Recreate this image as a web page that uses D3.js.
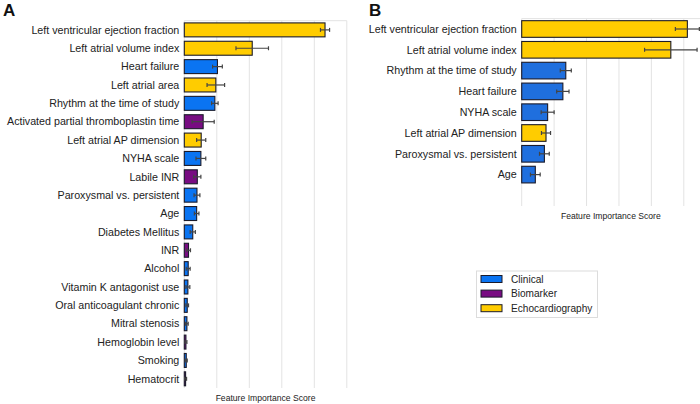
<!DOCTYPE html>
<html><head><meta charset="utf-8">
<script src="https://cdn.jsdelivr.net/npm/d3@7"></script>
<style>body{margin:0;background:#fff}svg{display:block}text{font-family:"Liberation Sans",Arial,sans-serif}</style>
</head><body><svg id="c" width="700" height="404"></svg>
<script>
// Panel A data
const featuresA = ["Left ventricular ejection fraction","Left atrial volume index","Heart failure","Left atrial area","Rhythm at the time of study","Activated partial thromboplastin time","Left atrial AP dimension","NYHA scale","Labile INR","Paroxysmal vs. persistent","Age","Diabetes Mellitus","INR","Alcohol","Vitamin K antagonist use","Oral anticoagulant chronic","Mitral stenosis","Hemoglobin level","Smoking","Hematocrit"];
const groupsA = ["Echocardiography","Echocardiography","Clinical","Echocardiography","Clinical","Biomarker","Echocardiography","Clinical","Biomarker","Clinical","Clinical","Clinical","Biomarker","Clinical","Clinical","Clinical","Clinical","Biomarker","Clinical","Biomarker"];
const valuesA = [4.33,2.09,1.02,0.97,0.94,0.58,0.52,0.51,0.40,0.39,0.38,0.26,0.13,0.12,0.11,0.09,0.08,0.05,0.06,0.04];
const errorsA = [0.14,0.50,0.15,0.27,0.10,0.34,0.14,0.15,0.11,0.09,0.07,0.08,0.06,0.06,0.06,0.04,0.04,0.03,0.03,0.03];
// Panel B data
const featuresB = ["Left ventricular ejection fraction","Left atrial volume index","Rhythm at the time of study","Heart failure","NYHA scale","Left atrial AP dimension","Paroxysmal vs. persistent","Age"];
const groupsB = ["Echocardiography","Echocardiography","Clinical","Clinical","Clinical","Echocardiography","Clinical","Clinical"];
const valuesB = [5.11,4.60,1.36,1.27,0.80,0.75,0.70,0.42];
const errorsB = [0.37,0.81,0.17,0.19,0.20,0.14,0.15,0.15];
const gridTicks = [1,2,3,4,5];
const legendItems = ["Clinical","Biomarker","Echocardiography"];

const colorsA = {Clinical:"#0a74f2",Biomarker:"#780c82",Echocardiography:"#ffcc00"};
const colorsB = {Clinical:"#1f6fde",Biomarker:"#780c82",Echocardiography:"#ffcc00"};
const svg = d3.select("#c");

function panel(cfg){
  const g = svg.append("g");
  const x = d3.scaleLinear().domain(cfg.domain).range([cfg.x0, cfg.x1]);
  const y = d3.scaleBand().domain(d3.range(cfg.slots)).range([cfg.y0, cfg.y1]).paddingInner(cfg.pad).paddingOuter(cfg.pad/2);
  g.selectAll("line.grid").data(gridTicks).join("line")
    .attr("x1",d=>x(d)).attr("x2",d=>x(d)).attr("y1",cfg.y0).attr("y2",cfg.gridBottom)
    .attr("stroke","#e3e3e3").attr("stroke-width",1);
  if(cfg.topLine){
    g.append("line").attr("x1",x(0)).attr("x2",cfg.x1).attr("y1",cfg.y0).attr("y2",cfg.y0).attr("stroke","#e3e3e3");
  }
  g.append("line").attr("x1",x(0)).attr("x2",x(0)).attr("y1",cfg.y0).attr("y2",cfg.gridBottom).attr("stroke","#e3e3e3");
  const data = cfg.features.map((f,i)=>({f,i,v:cfg.values[i],e:cfg.errors[i],g:cfg.groups[i]}));
  g.selectAll("rect.bar").data(data).join("rect")
    .attr("x",x(0)).attr("y",d=>y(d.i)).attr("width",d=>x(d.v)-x(0)).attr("height",y.bandwidth())
    .attr("fill",d=>cfg.colors[d.g]).attr("stroke","#1b1b2a").attr("stroke-width",1.1);
  const eb = g.selectAll("g.err").data(data).join("g");
  eb.append("line").attr("x1",d=>x(d.v-d.e)).attr("x2",d=>x(d.v+d.e))
    .attr("y1",d=>y(d.i)+y.bandwidth()/2).attr("y2",d=>y(d.i)+y.bandwidth()/2).attr("stroke","#444").attr("stroke-width",1.2);
  [-1,1].forEach(s=>{
    eb.append("line").attr("x1",d=>x(d.v+s*d.e)).attr("x2",d=>x(d.v+s*d.e))
      .attr("y1",d=>y(d.i)+y.bandwidth()/2-2).attr("y2",d=>y(d.i)+y.bandwidth()/2+2).attr("stroke","#444").attr("stroke-width",1.2);
  });
  g.selectAll("text.lab").data(data).join("text")
    .attr("x",x(0)-5).attr("y",d=>y(d.i)+y.bandwidth()/2).attr("dy","0.35em")
    .attr("text-anchor","end").attr("font-size",10.7).attr("fill","#222").text(d=>d.f);
  g.append("text").attr("x",(cfg.x0+cfg.x1)/2).attr("y",cfg.titleY).attr("text-anchor","middle")
    .attr("font-size",8.6).attr("fill","#222").text("Feature Importance Score");
  g.append("text").attr("x",cfg.letterX).attr("y",16).attr("font-size",17).attr("font-weight","bold").attr("fill","#111").text(cfg.letter);
}

panel({features:featuresA,groups:groupsA,values:valuesA,errors:errorsA,colors:colorsA,
  domain:[0,5],x0:184.3,x1:346.8,y0:20.7,y1:388,slots:20,pad:0.24,gridBottom:388,titleY:401,letter:"A",letterX:3,topLine:true});
panel({features:featuresB,groups:groupsB,values:valuesB,errors:errorsB,colors:colorsB,
  domain:[0,5.5],x0:521.7,x1:700,y0:18.6,y1:185,slots:8,pad:0.2,gridBottom:206,titleY:219,letter:"B",letterX:369,topLine:true});

const lg = svg.append("g");
lg.append("rect").attr("x",476.5).attr("y",271).attr("width",121).attr("height",46.5).attr("fill","#fff").attr("stroke","#dcdcdc");
const li = lg.selectAll("g.li").data(legendItems).join("g").attr("transform",(d,i)=>`translate(481,${279+i*14.6})`);
li.append("rect").attr("x",0).attr("y",-3.5).attr("width",21).attr("height",7).attr("fill",d=>colorsA[d]).attr("stroke","#1b1b2a").attr("stroke-width",1);
li.append("text").attr("x",30).attr("y",0).attr("dy","0.35em").attr("font-size",10.1).attr("fill","#222").text(d=>d);
</script></body></html>
